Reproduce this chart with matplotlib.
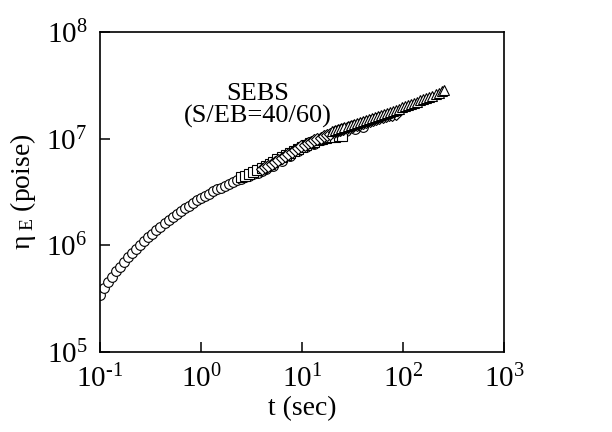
import matplotlib

matplotlib.use("Agg")
import matplotlib.pyplot as plt

plt.rcParams["font.family"] = ["Liberation Serif", "DejaVu Serif"]
plt.rcParams["mathtext.fontset"] = "custom"
plt.rcParams["mathtext.rm"] = "Liberation Serif"
plt.rcParams["mathtext.it"] = "Liberation Serif:italic"

# time (s) and elongational viscosity (poise)
circ_t = [0.100, 0.110, 0.120, 0.132, 0.145, 0.158, 0.174, 0.191, 0.209, 0.229,
          0.251, 0.275, 0.302, 0.331, 0.363, 0.398, 0.437, 0.479, 0.525, 0.575,
          0.631, 0.692, 0.759, 0.832, 0.912, 1.000, 1.10, 1.20, 1.32, 1.45,
          1.58, 1.74, 1.91, 2.09, 2.29, 2.51, 2.75, 3.02, 3.31, 3.63, 3.98,
          4.4, 5.2, 6.3, 7.6, 9.1, 11.0, 13.2, 15.8, 19.1, 22.9, 27.5, 33.1, 39.8]
circ_eta = [3.4e5, 3.95e5, 4.5e5, 5.1e5, 5.7e5, 6.3e5, 7.0e5, 7.75e5, 8.5e5, 9.3e5,
            1.01e6, 1.10e6, 1.19e6, 1.29e6, 1.39e6, 1.50e6, 1.61e6, 1.72e6, 1.84e6, 1.96e6,
            2.09e6, 2.22e6, 2.36e6, 2.50e6, 2.64e6, 2.78e6, 2.92e6, 3.06e6, 3.20e6, 3.34e6,
            3.48e6, 3.62e6, 3.76e6, 3.91e6, 4.06e6, 4.21e6, 4.36e6, 4.51e6, 4.66e6, 4.81e6, 4.96e6,
            5.15e6, 5.6e6, 6.2e6, 6.9e6, 7.6e6, 8.3e6, 9.0e6, 9.7e6, 1.04e7, 1.11e7, 1.18e7, 1.24e7, 1.29e7]

sq_t = [2.5, 2.75, 3.0, 3.3, 3.6, 4.0, 4.4, 4.8, 5.2, 5.7, 6.3, 6.9, 7.6, 8.3, 9.1,
        10.0, 11.0, 12.0, 13.2, 14.5, 15.8, 17.4, 19.1, 21.0, 23.0, 25.0]
sq_eta = [4.35e6, 4.5e6, 4.7e6, 4.9e6, 5.1e6, 5.35e6, 5.6e6, 5.85e6, 6.1e6, 6.4e6,
          6.7e6, 7.0e6, 7.35e6, 7.7e6, 8.05e6, 8.4e6, 8.75e6, 9.1e6, 9.4e6, 9.7e6,
          9.95e6, 1.015e7, 1.03e7, 1.04e7, 1.05e7, 1.055e7]

dia_t = [4.0, 4.3, 4.6, 5.0, 5.4, 5.8, 6.3, 6.8, 7.3, 7.9, 8.5, 9.1, 9.8, 10.6, 11.4,
         12.3, 13.2, 14.2, 15.3, 16.5, 17.8, 19.1, 20.6, 22.2, 23.9, 25.7, 27.7, 29.8,
         32.1, 34.6, 37.3, 40.2, 43.3, 46.6, 50.2, 54.0, 58.2, 62.7, 67.5, 72.7, 78.3, 84.3]
dia_eta = [5.2e6, 5.4e6, 5.6e6, 5.85e6, 6.1e6, 6.35e6, 6.65e6, 6.95e6, 7.25e6, 7.55e6,
           7.85e6, 8.15e6, 8.45e6, 8.75e6, 9.05e6, 9.35e6, 9.65e6, 9.95e6, 1.025e7, 1.055e7,
           1.085e7, 1.115e7, 1.145e7, 1.175e7, 1.205e7, 1.235e7, 1.265e7, 1.295e7,
           1.325e7, 1.355e7, 1.385e7, 1.415e7, 1.445e7, 1.475e7, 1.50e7, 1.53e7, 1.56e7,
           1.59e7, 1.62e7, 1.65e7, 1.68e7, 1.71e7]

tri_t = [20.0, 21.4, 22.9, 24.5, 26.3, 28.2, 30.2, 32.4, 34.7, 37.2, 39.8, 42.7, 45.7,
         49.0, 52.5, 56.2, 60.3, 64.6, 69.2, 74.1, 79.4, 85.1, 91.2, 97.7, 104.7, 112.2,
         120.2, 128.8, 138.0, 147.9, 158.5, 169.8, 182.0, 195.0, 208.9, 223.9, 239.9, 251.2]
tri_eta = [1.17e7, 1.20e7, 1.23e7, 1.26e7, 1.29e7, 1.32e7, 1.35e7, 1.38e7, 1.41e7, 1.44e7,
           1.47e7, 1.50e7, 1.53e7, 1.56e7, 1.60e7, 1.63e7, 1.67e7, 1.71e7, 1.75e7, 1.79e7,
           1.83e7, 1.87e7, 1.91e7, 1.96e7, 2.01e7, 2.06e7, 2.11e7, 2.16e7, 2.22e7, 2.28e7,
           2.34e7, 2.40e7, 2.46e7, 2.53e7, 2.60e7, 2.68e7, 2.77e7, 2.85e7]

x_ticks = [1e-1, 1e0, 1e1, 1e2, 1e3]
x_labels = ["$\\mathregular{10^{\u20101}}$", r"$\mathregular{10^{0}}$", r"$\mathregular{10^{1}}$",
            r"$\mathregular{10^{2}}$", r"$\mathregular{10^{3}}$"]
y_ticks = [1e5, 1e6, 1e7, 1e8]
y_labels = [r"$\mathregular{10^{5}}$", r"$\mathregular{10^{6}}$", r"$\mathregular{10^{7}}$",
            r"$\mathregular{10^{8}}$"]

fig = plt.figure(figsize=(6.12, 4.32), dpi=100)
ax = fig.add_axes([0.163, 0.185, 0.661, 0.741])

style = dict(linestyle="none", markerfacecolor="white", markeredgecolor="black",
             markeredgewidth=0.8)
ax.plot(circ_t, circ_eta, marker="o", markersize=7, **style)
ax.plot(sq_t, sq_eta, marker="s", markersize=7, **style)
ax.plot(dia_t, dia_eta, marker="D", markersize=6, **style)
ax.plot(tri_t, tri_eta, marker="^", markersize=7.5, **style)

ax.set_xscale("log")
ax.set_yscale("log")
ax.set_xlim(1e-1, 1e3)
ax.set_ylim(1e5, 1e8)
ax.set_xticks(x_ticks, x_labels)
ax.set_yticks(y_ticks, y_labels)
ax.minorticks_off()
ax.tick_params(direction="in", length=7, width=1.1, labelsize=21, pad=9,
               top=False, right=False)
for sp in ax.spines.values():
    sp.set_linewidth(1.2)

ax.text(0.39, 0.77, "SEBS\n(S/EB=40/60)", transform=ax.transAxes,
        ha="center", va="center", fontsize=19, linespacing=0.95)

ax.set_xlabel("t (sec)", fontsize=20, labelpad=2)
ax.set_ylabel(r"$\mathregular{\eta_{\ E}}$ (poise)", fontsize=20, labelpad=6)

fig.savefig("out.png", dpi=100)
